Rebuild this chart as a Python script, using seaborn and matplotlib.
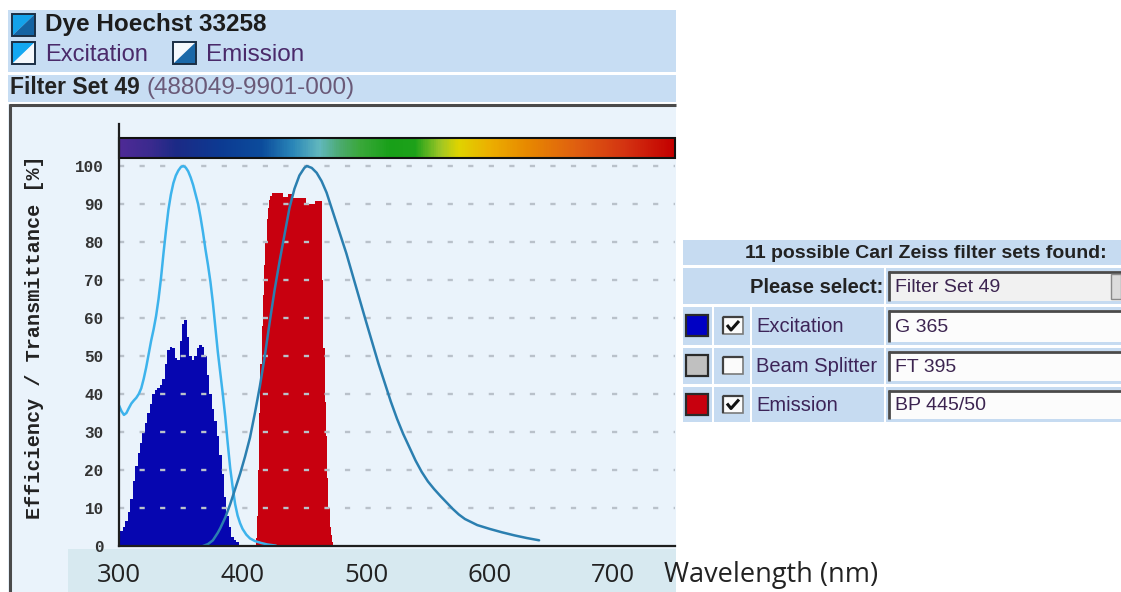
import numpy as np
import matplotlib
matplotlib.use("Agg")
import matplotlib.pyplot as plt
import seaborn as sns
from matplotlib.patches import Rectangle, Polygon
from matplotlib.colors import LinearSegmentedColormap
from matplotlib.lines import Line2D

# ---------------- data ----------------
ex_spec_nm = [300, 302, 304, 306, 308, 310, 312, 314, 316, 318, 320, 322, 324, 326, 328, 330,
              332, 334, 336, 338, 340, 342, 344, 346, 348, 350, 352, 354, 356, 358, 360, 362,
              364, 366, 368, 370, 372, 374, 376, 378, 380, 382, 384, 386, 388, 390, 392, 394,
              396, 398, 400, 403, 406, 410, 415, 420, 427]
ex_spec_val = [37, 35.5, 34.5, 35, 36.3, 37.5, 38.3, 39, 40, 41.5, 44, 47, 50.5, 54, 57, 60.5,
               65, 70.5, 77, 83, 88.5, 92.5, 95.5, 97.5, 98.8, 99.7, 100, 99.6, 98.6, 97, 95, 92.5,
               90, 86.5, 82.5, 78, 74, 69.5, 64, 57.5, 51, 45.5, 40, 34, 27, 20.5, 15.5, 11,
               8, 6, 4.5, 3, 2, 1.3, 0.8, 0.4, 0.1]

em_spec_nm = [368, 372, 376, 380, 382, 386, 390, 394, 398, 402, 406, 410, 414, 418, 422, 426,
              430, 434, 438, 442, 446, 450, 452, 456, 460, 464, 468, 472, 476, 480, 484, 488,
              492, 496, 500, 505, 510, 515, 520, 525, 530, 535, 540, 545, 550, 555, 560, 565,
              570, 575, 580, 590, 600, 610, 620, 630, 640]
em_spec_val = [0, 0.5, 1.5, 3.5, 4.7, 7.5, 11, 15, 19, 23.5, 28.5, 35, 42, 50, 59, 67.5,
               75, 82, 89, 94, 97.5, 99.5, 100, 99.5, 98.2, 96, 93, 89, 85, 81, 77, 72.5,
               68, 63.5, 59, 53.5, 48, 43, 38, 33.5, 29.5, 26, 22.5, 19.5, 17, 15, 13.2, 11.5,
               9.8, 8.3, 7.1, 5.5, 4.5, 3.6, 2.8, 2.1, 1.5]

ex_filter_nm = [300, 302, 304, 306, 308, 310, 312, 314, 316, 318, 320, 322, 324, 326, 328, 330,
                332, 334, 336, 338, 340, 342, 344, 346, 348, 350, 352, 354, 356, 358, 360, 362,
                364, 366, 368, 370, 372, 374, 376, 378, 380, 382, 384, 386, 388, 390, 392, 394,
                396, 398, 400]
ex_filter_val = [3, 4, 5, 6.5, 9, 12.5, 17, 21, 24.5, 27, 30, 32.5, 35, 37.5, 40, 41,
                 41.5, 42.5, 44, 48, 51.5, 52.5, 52, 49.5, 49, 54, 58.5, 59.5, 55, 50, 49, 50,
                 52, 53, 52.5, 50, 45, 40, 36, 33, 29, 24, 19, 13, 8, 5, 2.5, 1.5,
                 1, 0.3, 0]

em_filter_nm = [410, 411, 412, 413, 414, 415, 416, 417, 418, 419, 420, 421, 422, 423, 424, 426,
                428, 430, 432, 434, 436, 438, 440, 442, 444, 446, 448, 450, 452, 454, 456, 458,
                460, 462, 464, 465, 466, 467, 468, 469, 470, 471, 472, 473, 474]
em_filter_val = [0, 2, 8, 20, 35, 48, 58, 66, 74, 80, 86, 89, 91, 92, 93, 93,
                 93, 93, 93, 91.8, 91.8, 92.6, 92.6, 91.6, 91.6, 91.6, 91.6, 91.6, 90, 90, 90, 90,
                 90.7, 90.7, 90.7, 70, 52, 38, 29, 18, 10, 5, 3, 1, 0]

x_ticks = [300, 400, 500, 600, 700]
y_ticks = [0, 10, 20, 30, 40, 50, 60, 70, 80, 90, 100]

table_title = "11 possible Carl Zeiss filter sets found:"
select_label = "Please select:"
select_value = "Filter Set 49"
row_labels = ["Excitation", "Beam Splitter", "Emission"]
row_values = ["G 365", "FT 395", "BP 445/50"]
row_checked = [True, False, True]
row_swatch = ["#0000c4", "#c0c0c0", "#c8000e"]

# ---------------- style ----------------
sns.set_style("white")
plt.rcParams['font.family'] = ['Liberation Sans', 'DejaVu Sans']

W, H = 1121, 592
fig = plt.figure(figsize=(W / 100, H / 100), dpi=100, facecolor='white')


def fx(x):
    return x / W


def fy(y):
    return 1 - y / H


def prect(x0, y0, x1, y1, fc, ec='none', lw=0, z=-5):
    r = Rectangle((fx(x0), fy(y1)), (x1 - x0) / W, (y1 - y0) / H, transform=fig.transFigure,
                  facecolor=fc, edgecolor=ec, linewidth=lw, zorder=z)
    fig.add_artist(r)


def pline(xs, ys, color, lw, z=-4):
    fig.add_artist(Line2D([fx(v) for v in xs], [fy(v) for v in ys], transform=fig.transFigure,
                          color=color, linewidth=lw, zorder=z, solid_capstyle='butt'))


def ptext(x, y, s, **kw):
    kw.setdefault('va', 'center')
    kw.setdefault('ha', 'left')
    fig.text(fx(x), fy(y), s, **kw)


def ptri(pts, color, z=-3):
    fig.add_artist(Polygon([(fx(a), fy(b)) for a, b in pts], closed=True, transform=fig.transFigure,
                           facecolor=color, edgecolor='none', zorder=z))


HEAD = '#c7ddf3'
PANEL = '#eaf3fb'

# header bands
prect(8, 10, 676, 72, HEAD)
prect(8, 75, 676, 102, HEAD)
# plot panel
prect(8, 104, 676, 592, PANEL)
prect(68, 549, 676, 592, '#d7e9f0', z=-4.5)
pline([10, 10], [104, 592], '#4a4a4a', 2.2)
pline([9, 676], [105, 105], '#4a4a4a', 2.2)


# icons
def icon(x0, y0, x1, y1, c_ul, c_lr):
    ptri([(x0, y0), (x1, y0), (x0, y1)], c_ul)
    ptri([(x1, y0), (x1, y1), (x0, y1)], c_lr)
    prect(x0, y0, x1, y1, 'none', ec='#1b2f45', lw=1.4, z=-2)


icon(12, 14, 35, 36, '#13a2ea', '#1463a2')
icon(12, 42, 35, 64, '#13a8f2', '#f5f9fd')
icon(173, 42, 196, 64, '#f5f9fd', '#1a68a8')

ptext(45, 25, "Dye Hoechst 33258", fontsize=17.5, fontweight='bold', color='#1c1c1c')
ptext(45, 55, "Excitation", fontsize=17, color='#4a2a6a')
ptext(206, 55, "Emission", fontsize=17.5, color='#4a2a6a')
ptext(10, 88, "Filter Set 49", fontsize=16.5, fontweight='bold', color='#222222')
ptext(147, 88, "(488049-9901-000)", fontsize=17.5, color='#6a5a78')

# ---------------- axes ----------------
ax = fig.add_axes([fx(119), 46 / H, 556 / W, 421.8 / H])
ax.set_facecolor('none')

ax.fill_between(ex_filter_nm, 0, ex_filter_val, step='mid', color='#0606b0', linewidth=0, zorder=1.2)
ax.fill_between(em_filter_nm, 0, em_filter_val, step='mid', color='#c8000f', linewidth=0, zorder=1.2)

# dotted horizontal grid (above the filter fills, below the curves)
for v in y_ticks[1:]:
    ax.axhline(v, color='#b9c1ca', linestyle=(0, (2.2, 6.5)), linewidth=1.7, zorder=2)

sns.lineplot(x=ex_spec_nm, y=ex_spec_val, ax=ax, color='#3db3ec', linewidth=1.8,
             estimator=None, sort=False, zorder=3)
sns.lineplot(x=em_spec_nm, y=em_spec_val, ax=ax, color='#2b7fb0', linewidth=1.8,
             estimator=None, sort=False, zorder=3)

# spectrum colour bar
stops = [(300, '#4e2a96'), (325, '#3a2a8e'), (345, '#1c2a86'), (380, '#0d3a92'), (415, '#0c4c9c'),
         (440, '#2a86b8'), (462, '#62b8be'), (480, '#4aaa6a'), (495, '#3aa83a'), (520, '#18a018'),
         (540, '#1ea21a'), (560, '#9cc626'), (575, '#e0d400'), (600, '#ecb000'), (630, '#e88a00'),
         (670, '#e06010'), (710, '#d43412'), (750, '#c40000')]
cmap = LinearSegmentedColormap.from_list('spec', [((n - 300) / 450, c) for n, c in stops])
grad = np.linspace(0, 1, 600).reshape(1, -1)
ax.imshow(grad, extent=(300, 750, 102.2, 107.5), aspect='auto', cmap=cmap, zorder=3,
          interpolation='bilinear')
ax.add_patch(Rectangle((300, 102.2), 450, 5.3, fill=False, edgecolor='#111111', linewidth=1.5,
                       zorder=4, clip_on=False))

ax.set_xlim(300, 750)
ax.set_ylim(0, 111)
ax.set_aspect('auto')
ax.set_xlabel('')
ax.set_ylabel('')
ax.grid(False)

for s in ['top', 'right']:
    ax.spines[s].set_visible(False)
for s in ['left', 'bottom']:
    ax.spines[s].set_color('#1e1e1e')
    ax.spines[s].set_linewidth(1.6)
    ax.spines[s].set_zorder(5)

ax.set_xticks(x_ticks)
ax.set_xticklabels([str(v) for v in x_ticks], fontfamily='Open Sans', fontsize=18.5, color='#222222')
ax.set_yticks(y_ticks)
ax.set_yticklabels([str(v) for v in y_ticks], fontfamily='Liberation Mono', fontweight='bold',
                   fontsize=11.5, color='#333333')
ax.tick_params(axis='y', direction='inout', length=14, width=1.6, color='#1e1e1e', pad=4)
ax.tick_params(axis='x', direction='inout', length=8.6, width=1.6, color='#1e1e1e', pad=8)

ptext(35, 337, "Efficiency / Transmittance [%]", rotation=90, ha='center',
      fontfamily='Liberation Mono', fontweight='bold', fontsize=14.5, color='#222222')
ptext(664, 575, "Wavelength (nm)", fontfamily='Open Sans', fontsize=19.5, color='#222222')

# ---------------- filter table ----------------
CELL = '#c6dbf1'
prect(683, 240, 1121, 265, CELL)
ptext(745, 253, table_title, fontsize=14, fontweight='bold', color='#222222')

prect(683, 268, 884, 304, CELL)
prect(886, 268, 1121, 304, CELL)
ptext(883, 287, select_label, ha='right', fontsize=14.5, fontweight='bold', color='#222222')
prect(888, 271, 1121, 301, '#f1f1f1', z=-4)
pline([889, 889], [271, 301], '#4a4a4a', 2, z=-3)
pline([888, 1121], [272, 272], '#4a4a4a', 2, z=-3)
prect(1111, 274, 1121, 299, '#dcdcdc', ec='#8a8a8a', lw=1, z=-3)
ptext(895, 287, select_value, fontsize=14, color='#3c2450')

row_y = [(307, 345), (348, 384), (387, 422)]
for (y0, y1), lab, val, chk, sw in zip(row_y, row_labels, row_values, row_checked, row_swatch):
    cy = (y0 + y1) / 2
    prect(683, y0, 712, y1, CELL)
    prect(714, y0, 750, y1, CELL)
    prect(752, y0, 884, y1, CELL)
    prect(886, y0, 1121, y1, CELL)
    prect(686, cy - 11, 708, cy + 10, sw, ec='#2a2a2a', lw=1.6, z=-3)
    prect(723, cy - 9, 743, cy + 8, '#fbfbfb', ec='#7a7a7a', lw=1.2, z=-3)
    pline([723, 723], [cy - 9, cy + 8], '#404040', 1.6, z=-2)
    pline([723, 743], [cy - 9, cy - 9], '#404040', 1.6, z=-2)
    if chk:
        pline([727, 731, 739], [cy - 1, cy + 4, cy - 5], '#111111', 2.2, z=-1)
    ptext(756, cy + 1, lab, fontsize=14.5, color='#3c2458')
    prect(888, y0 + 3, 1121, y1 - 3, '#fcfcfc', z=-4)
    pline([889, 889], [y0 + 3, y1 - 3], '#4a4a4a', 2, z=-3)
    pline([888, 1121], [y0 + 4, y0 + 4], '#4a4a4a', 2, z=-3)
    ptext(895, cy + 1, val, fontsize=14, color='#3c2450')

fig.savefig("out.png", dpi=100, facecolor='white')
